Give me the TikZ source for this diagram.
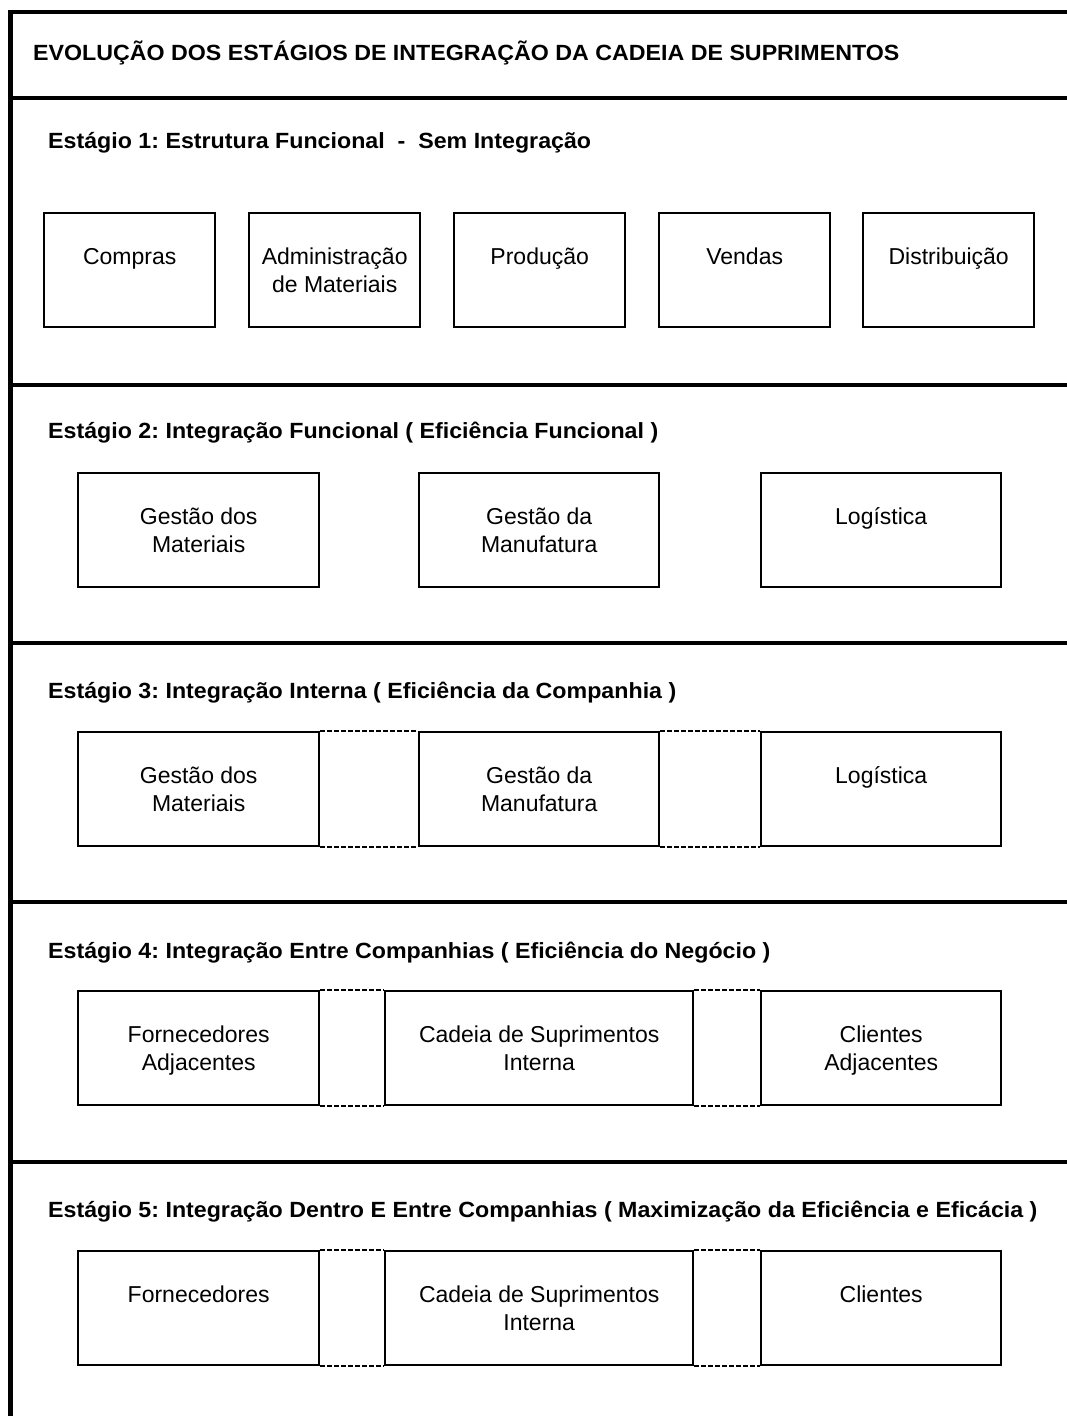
\documentclass[tikz,border=0pt]{standalone}
\usepackage{fontspec}
\setmainfont{Liberation Sans}
\newfontfamily\headfont{Liberation Sans}[FakeStretch=1.055]
\frenchspacing
\usetikzlibrary{calc}
% strut that fixes the height of the first line of every box text
\newcommand\lblstrut{\rule{0pt}{19pt}}
\begin{document}
\begin{tikzpicture}[x=1pt,y=-1pt,
  frame/.style={line width=4.5pt},
  head/.style={font=\headfont\bfseries\fontsize{22}{26}\selectfont, anchor=base west, inner sep=0pt},
  box/.style={draw, line width=2.4pt, minimum width=#1, minimum height=114pt,
              anchor=north west, inner sep=0pt},
  btext/.style={font=\fontsize{23}{28}\selectfont, align=center, inner sep=0pt,
                anchor=north, yshift=-33pt},
  link/.style={line width=2pt, dash pattern=on 5pt off 2pt}
]
\useasboundingbox (0,0) rectangle (1067,1416);

% outer frame and stage separators
\draw[frame] (10.5,9.75) -- (10.5,1416);
\draw[frame] (8.25,12) -- (1067,12);
\foreach \yy in {98,385,643,902,1162}
  \draw[frame] (10.5,\yy) -- (1067,\yy);

% headings
\node[head] (title) at (33,60) {EVOLUÇÃO DOS ESTÁGIOS DE INTEGRAÇÃO DA CADEIA DE SUPRIMENTOS};
\node[head] (h1) at (48,148) {Estágio 1: Estrutura Funcional\ \ -\ \ Sem Integração};
\node[head] (h2) at (48,438) {Estágio 2: Integração Funcional ( Eficiência Funcional )};
\node[head] (h3) at (48,698) {Estágio 3: Integração Interna ( Eficiência da Companhia )};
\node[head] (h4) at (48,958) {Estágio 4: Integração Entre Companhias ( Eficiência do Negócio )};
\node[head] (h5) at (48,1217) {Estágio 5: Integração Dentro E Entre Companhias ( Maximização da Eficiência e Eficácia )};

% stage 1: five separate functions
\node[box=171pt, label={[btext]north:\lblstrut Compras}] (s1a) at (43,212) {};
\node[box=171pt, label={[btext]north:\lblstrut Administração\\de Materiais}] (s1b) at (248,212) {};
\node[box=171pt, label={[btext]north:\lblstrut Produção}] (s1c) at (453,212) {};
\node[box=171pt, label={[btext]north:\lblstrut Vendas}] (s1d) at (658,212) {};
\node[box=171pt, label={[btext]north:\lblstrut Distribuição}] (s1e) at (862,212) {};

% stage 2: three integrated functions
\node[box=241pt, label={[btext]north:\lblstrut Gestão dos\\Materiais}] (s2a) at (77,472) {};
\node[box=240pt, label={[btext]north:\lblstrut Gestão da\\Manufatura}] (s2b) at (418,472) {};
\node[box=240pt, label={[btext]north:\lblstrut Logística}] (s2c) at (760,472) {};

% stage 3: internal integration
\node[box=241pt, label={[btext]north:\lblstrut Gestão dos\\Materiais}] (s3a) at (77,731) {};
\node[box=240pt, label={[btext]north:\lblstrut Gestão da\\Manufatura}] (s3b) at (418,731) {};
\node[box=240pt, label={[btext]north:\lblstrut Logística}] (s3c) at (760,731) {};

% stage 4: integration between companies
\node[box=241pt, label={[btext]north:\lblstrut Fornecedores\\Adjacentes}] (s4a) at (77,990) {};
\node[box=308pt, label={[btext]north:\lblstrut Cadeia de Suprimentos\\Interna}] (s4b) at (384,990) {};
\node[box=240pt, label={[btext]north:\lblstrut Clientes\\Adjacentes}] (s4c) at (760,990) {};

% stage 5: integration within and between companies
\node[box=241pt, label={[btext]north:\lblstrut Fornecedores}] (s5a) at (77,1250) {};
\node[box=308pt, label={[btext]north:\lblstrut Cadeia de Suprimentos\\Interna}] (s5b) at (384,1250) {};
\node[box=240pt, label={[btext]north:\lblstrut Clientes}] (s5c) at (760,1250) {};

% dashed links between neighbouring boxes
\foreach \p/\q in {s3a/s3b,s3b/s3c,s4a/s4b,s4b/s4c,s5a/s5b,s5b/s5c} {
  \draw[link] (\p.north east) -- (\q.north west);
  \draw[link] (\p.south east) -- (\q.south west);
}
\end{tikzpicture}
\end{document}
